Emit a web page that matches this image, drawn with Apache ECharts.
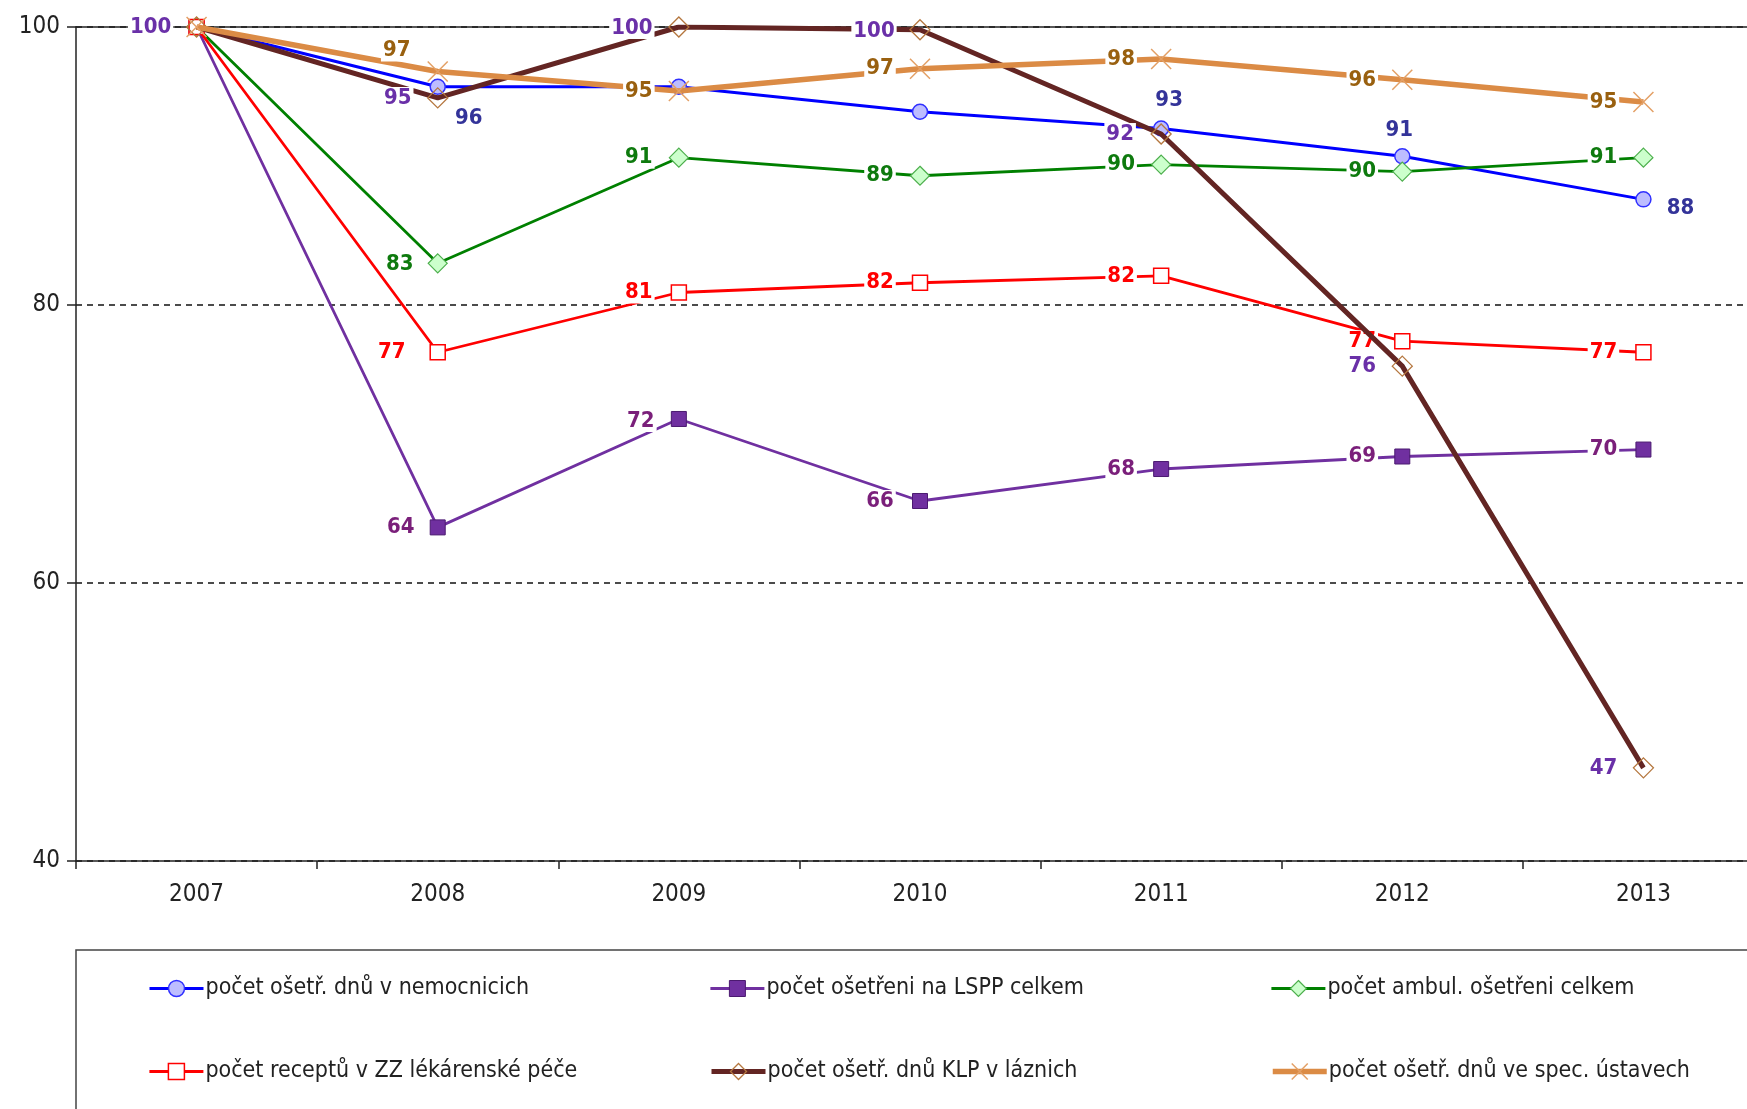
<!DOCTYPE html>
<html>
<head>
<meta charset="utf-8">
<script src="https://cdn.jsdelivr.net/npm/echarts@6/dist/echarts.min.js"></script>
<style>
html,body{margin:0;padding:0;background:#fff;overflow:hidden;width:1747px;height:1109px;}
#chart{width:1780px;height:1109px;}
</style>
</head>
<body>
<div id="chart"></div>
<script>
// ---- data ----
const years = ['2007', '2008', '2009', '2010', '2011', '2012', '2013'];
const hospitalDays   = [100, 95.7, 95.7, 93.9, 92.7, 90.7, 87.6];
const lsppTreatments = [100, 64.0, 71.8, 65.9, 68.2, 69.1, 69.6];
const ambulTreatments = [100, 83.0, 90.6, 89.3, 90.1, 89.6, 90.6];
const prescriptions  = [100, 76.6, 80.9, 81.6, 82.1, 77.4, 76.6];
const spaDays        = [100, 94.9, 100, 99.8, 92.3, 75.6, 46.7];
const specInstDays   = [100, 96.8, 95.4, 97.0, 97.7, 96.2, 94.6];
const seriesNames = [
  'počet ošetř. dnů v nemocnicich',
  'počet ošetřeni na LSPP celkem',
  'počet ambul. ošetřeni celkem',
  'počet receptů v ZZ lékárenské péče',
  'počet ošetř. dnů KLP v láznich',
  'počet ošetř. dnů ve spec. ústavech'
];
const yMin = 40, yMax = 100, yStep = 20;

// ---- styling ----
const NARROW = "'Liberation Sans Narrow','Arial Narrow','DejaVu Sans Condensed',sans-serif";
const LBL_DX = -40;
const styles = [
  { line: '#0000FF', width: 3, symbol: 'circle', size: 15, fill: '#BDBDFF', border: '#3030FF', bw: 1.5, lbl: '#333399',
    show: [0,1,0,0,1,1,1], off: {1:[31,32], 4:[8,-28], 5:[-3,-26], 6:[37,9]} },
  { line: '#7030A0', width: 2.8, symbol: 'rect', size: 15, fill: '#7030A0', border: '#4B1A70', bw: 1, lbl: '#7A1F7A',
    show: [0,1,1,1,1,1,1], off: {1:[-37,0], 2:[-38,2]} },
  { line: '#008000', width: 2.8, symbol: 'diamond', size: 19, fill: '#CCFFCC', border: '#4CAF4C', bw: 1.2, lbl: '#0E7A0E',
    show: [0,1,1,1,1,1,1], off: {1:[-38,1]} },
  { line: '#FF0000', width: 2.8, symbol: 'rect', size: 15, fill: '#FFFFFF', border: '#FF0000', bw: 1.5, lbl: '#FF0000',
    show: [0,1,1,1,1,1,1], off: {1:[-46,0]} },
  { line: '#632523', width: 5, symbol: 'diamond', size: 20, fill: 'rgba(255,255,255,0)', border: '#B5773F', bw: 1.3, lbl: '#6A30A8',
    show: [1,1,1,1,1,1,1], off: {0:[-46,0], 2:[-47,1], 3:[-46,2], 4:[-41,0]} },
  { line: '#DB8B45', width: 5.5, symbol: 'path://M0,0L10,10M10,0L0,10', size: 20, fill: 'rgba(0,0,0,0)', border: '#E3A066', bw: 1.5, lbl: '#99600F',
    show: [0,1,1,1,1,1,1], off: {1:[-41,-21]} }
];
const allValues = [hospitalDays, lsppTreatments, ambulTreatments, prescriptions, spaDays, specInstDays];

const series = allValues.map((vals, si) => {
  const st = styles[si];
  return {
    name: seriesNames[si],
    type: 'line',
    symbol: st.symbol,
    symbolSize: st.size,
    z: 2 + si,
    lineStyle: { color: st.line, width: st.width },
    itemStyle: { color: st.fill, borderColor: st.border, borderWidth: st.bw },
    emphasis: { disabled: true },
    animation: false,
    data: vals.map((v, i) => ({
      value: v,
      label: {
        show: !!st.show[i],
        position: 'inside',
        offset: st.off[i] || [LBL_DX, 0],
        formatter: p => String(Math.round(p.value)),
        color: st.lbl,
        fontSize: 22,
        fontWeight: 'bold',
        fontFamily: NARROW,
        backgroundColor: '#FFFFFF',
        padding: [0, 2]
      }
    }))
  };
});

const legendPos = [
  [148, 977], [709, 977], [1270, 977],
  [148, 1060], [709, 1060], [1270, 1060]
];
const legends = seriesNames.map((n, i) => ({
  data: [{
    name: n,
    lineStyle: { color: styles[i].line, width: styles[i].width },
    itemStyle: { color: styles[i].fill, borderColor: styles[i].border, borderWidth: styles[i].bw }
  }],
  left: legendPos[i][0],
  top: legendPos[i][1],
  padding: 0,
  itemWidth: 54,
  itemHeight: 20,
  itemGap: 3,
  selectedMode: false,
  textStyle: { fontSize: 23, fontFamily: NARROW, color: '#222', padding: [0, 0, 0, -3] }
}));

const chart = echarts.init(document.getElementById('chart'), null, { renderer: 'canvas' });
chart.setOption({
  animation: false,
  backgroundColor: '#FFFFFF',
  grid: { left: 76, top: 27, right: 16, bottom: 248, containLabel: false },
  legend: legends,
  xAxis: [{
    type: 'category',
    data: years,
    boundaryGap: true,
    axisLine: { lineStyle: { color: '#222', width: 1.5 } },
    axisTick: { show: true, length: 8, lineStyle: { color: '#222', width: 1.5 } },
    axisLabel: { margin: 22, fontSize: 24, fontFamily: NARROW, color: '#222' },
    splitLine: { show: false }
  }, {
    type: 'category',
    data: years,
    position: 'top',
    axisLine: { lineStyle: { color: '#222', width: 1.5 } },
    axisTick: { show: false },
    axisLabel: { show: false },
    splitLine: { show: false }
  }],
  yAxis: {
    type: 'value',
    min: yMin, max: yMax, interval: yStep,
    axisLine: { show: true, lineStyle: { color: '#222', width: 1.5 } },
    axisTick: { show: true, length: 9, lineStyle: { color: '#222', width: 1.5 } },
    axisLabel: { margin: 16, fontSize: 24, fontFamily: NARROW, color: '#222' },
    splitLine: { show: true, lineStyle: { color: '#111', type: [6, 5], width: 1.5 } }
  },
  graphic: [{
    type: 'rect',
    shape: { x: 76, y: 950, width: 1750, height: 200 },
    style: { fill: 'none', stroke: '#444', lineWidth: 1.5 },
    z: -1
  }],
  series: series
});
</script>
</body>
</html>
